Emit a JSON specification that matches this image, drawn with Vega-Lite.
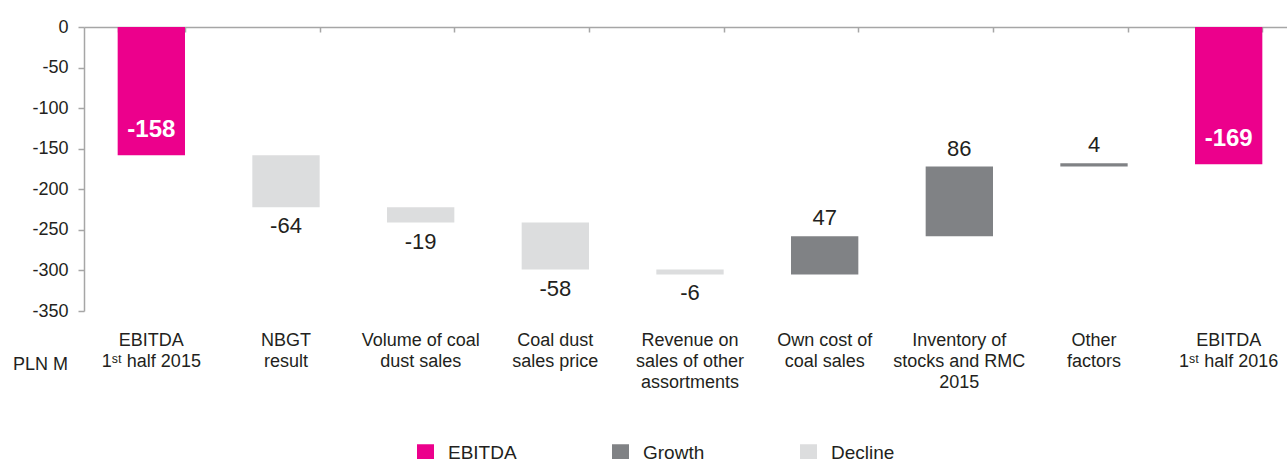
{
  "$schema": "https://vega.github.io/schema/vega-lite/v6.json",
  "autosize": "none",
  "width": 1203,
  "height": 284,
  "padding": {"left": 84, "top": 27, "right": 0, "bottom": 148},
  "background": "white",
  "config": {
    "view": {"stroke": null},
    "font": "Liberation Sans",
    "axis": {"labelFont": "Liberation Sans", "titleFont": "Liberation Sans", "labelColor": "#231F20", "titleColor": "#231F20", "grid": false},
    "legend": {"labelFont": "Liberation Sans"}
  },
  "data": {
    "values": [
      {"cat": "EBITDA|1ˢᵗ half 2015", "start": 0, "end": -158, "label": "-158", "type": "EBITDA"},
      {"cat": "NBGT|result", "start": -158, "end": -222, "label": "-64", "type": "Decline"},
      {"cat": "Volume of coal|dust sales", "start": -222, "end": -241, "label": "-19", "type": "Decline"},
      {"cat": "Coal dust|sales price", "start": -241, "end": -299, "label": "-58", "type": "Decline"},
      {"cat": "Revenue on|sales of other|assortments", "start": -299, "end": -305, "label": "-6", "type": "Decline"},
      {"cat": "Own cost of|coal sales", "start": -305, "end": -258, "label": "47", "type": "Growth"},
      {"cat": "Inventory of|stocks and RMC|2015", "start": -258, "end": -172, "label": "86", "type": "Growth"},
      {"cat": "Other|factors", "start": -172, "end": -168, "label": "4", "type": "Growth"},
      {"cat": "EBITDA|1ˢᵗ half 2016", "start": 0, "end": -169, "label": "-169", "type": "EBITDA"}
    ]
  },
  "resolve": {"axis": {"x": "independent"}},
  "layer": [
    {
      "mark": {"type": "bar"},
      "encoding": {
        "x": {
          "field": "cat", "type": "nominal", "sort": null,
          "scale": {"range": [0, 1212], "paddingInner": 0.5, "paddingOuter": 0.25},
          "axis": {"orient": "top", "labels": false, "title": null, "tickBand": "extent", "tickSize": -5, "domainColor": "#A6A6A6", "tickColor": "#A6A6A6", "domainWidth": 1.5, "tickWidth": 1.5}
        },
        "y": {
          "field": "start", "type": "quantitative",
          "scale": {"domain": [-350, 0], "nice": false, "zero": false},
          "axis": {"values": [0, -50, -100, -150, -200, -250, -300, -350], "labelExpr": "'' + datum.value", "labelFontSize": 18, "tickSize": 6, "labelPadding": 10, "domainColor": "#A6A6A6", "tickColor": "#A6A6A6", "domainWidth": 1.5, "tickWidth": 1.5, "title": "PLN M", "titleAngle": 0, "titleFontSize": 18, "titleFontWeight": "normal", "titleX": -44, "titleY": 337, "titleAlign": "center", "titleBaseline": "middle"}
        },
        "y2": {"field": "end"},
        "color": {
          "field": "type", "type": "nominal",
          "scale": {"domain": ["EBITDA", "Growth", "Decline"], "range": ["#EC008C", "#808285", "#DCDDDE"]},
          "legend": {"title": null, "orient": "none", "legendX": 332, "legendY": 416, "direction": "horizontal", "symbolType": "square", "symbolSize": 289, "symbolStrokeWidth": 0, "labelFontSize": 19, "labelColor": "#231F20", "labelOffset": 13, "columnPadding": 94, "padding": 0}
        }
      }
    },
    {
      "mark": {"type": "text", "fontSize": 18, "opacity": 0},
      "encoding": {
        "x": {
          "field": "cat", "type": "nominal", "sort": null,
          "axis": {"orient": "bottom", "domain": false, "ticks": false, "title": null, "labelAngle": 0, "labelFontSize": 18, "labelPadding": 20, "labelLineHeight": 21, "labelBaseline": "top", "labelLimit": 0, "labelExpr": "split(datum.label, '|')"}
        },
        "y": {"field": "end", "type": "quantitative"},
        "text": {"field": "label"}
      }
    },
    {
      "transform": [{"filter": "datum.type === 'Decline'"}],
      "mark": {"type": "text", "fontSize": 22, "color": "#231F20", "baseline": "top", "dy": 9},
      "encoding": {
        "x": {"field": "cat", "type": "nominal", "sort": null, "axis": null},
        "y": {"field": "end", "type": "quantitative"},
        "text": {"field": "label"}
      }
    },
    {
      "transform": [{"filter": "datum.type === 'Growth'"}],
      "mark": {"type": "text", "fontSize": 22, "color": "#231F20", "baseline": "alphabetic", "dy": -11},
      "encoding": {
        "x": {"field": "cat", "type": "nominal", "sort": null, "axis": null},
        "y": {"field": "end", "type": "quantitative"},
        "text": {"field": "label"}
      }
    },
    {
      "transform": [{"filter": "datum.type === 'EBITDA'"}],
      "mark": {"type": "text", "fontSize": 24, "fontWeight": "bold", "color": "white", "baseline": "alphabetic", "dy": -18},
      "encoding": {
        "x": {"field": "cat", "type": "nominal", "sort": null, "axis": null},
        "y": {"field": "end", "type": "quantitative"},
        "text": {"field": "label"}
      }
    }
  ]
}
